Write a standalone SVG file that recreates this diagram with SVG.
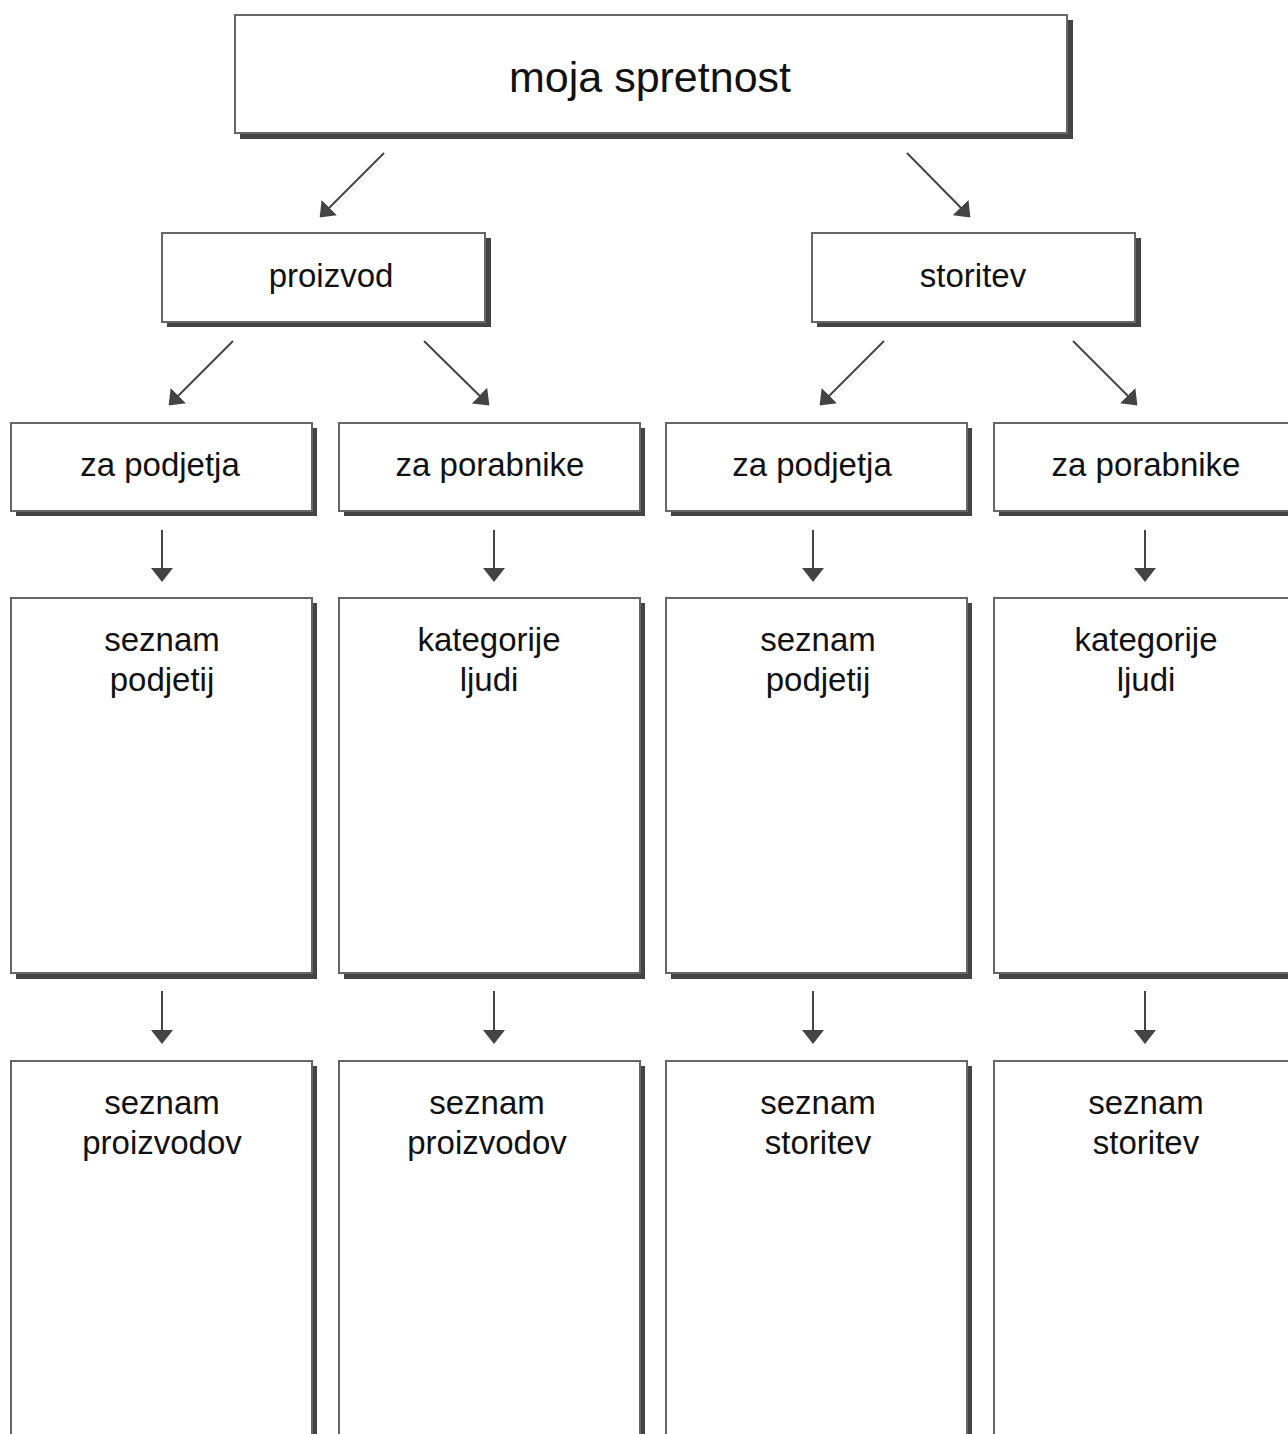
<svg xmlns="http://www.w3.org/2000/svg" width="1288" height="1434" viewBox="0 0 1288 1434">
<style>
.sh{fill:#444}
.bx{fill:#fff;stroke:#666;stroke-width:2}
.t{font-family:"Liberation Sans",Arial,Helvetica,sans-serif;fill:#111;text-anchor:middle;font-size:33px}
.c{stroke:#444;stroke-width:2;fill:none;marker-end:url(#ah)}
</style>
<defs>
<marker id="ah" markerUnits="userSpaceOnUse" markerWidth="14" markerHeight="22" viewBox="0 0 14 22" refX="12" refY="11" orient="auto">
<path d="M0,0 L14,11 L0,22 Z" fill="#444"/>
</marker>
</defs>
<rect width="1288" height="1434" fill="#fff"/>
<g id="n-root">
<rect class="sh" x="240" y="20" width="833" height="119"/>
<rect class="bx" x="235" y="15" width="832" height="118"/>
<text class="t" x="650" y="92" style="font-size:43px">moja spretnost</text>
</g>
<g id="n-proizvod">
<rect class="sh" x="167" y="238" width="324" height="89"/>
<rect class="bx" x="162" y="233" width="323" height="89"/>
<text class="t" x="331" y="287">proizvod</text>
</g>
<g id="n-storitev">
<rect class="sh" x="817" y="238" width="324" height="89"/>
<rect class="bx" x="812" y="233" width="323" height="89"/>
<text class="t" x="973" y="287">storitev</text>
</g>
<g id="n-p-podjetja">
<rect class="sh" x="16" y="428" width="301" height="88"/>
<rect class="bx" x="11" y="423" width="301" height="88"/>
<text class="t" x="160" y="476">za podjetja</text>
</g>
<g id="n-p-porabnike">
<rect class="sh" x="344" y="428" width="301" height="88"/>
<rect class="bx" x="339" y="423" width="301" height="88"/>
<text class="t" x="490" y="476">za porabnike</text>
</g>
<g id="n-s-podjetja">
<rect class="sh" x="671" y="428" width="301" height="88"/>
<rect class="bx" x="666" y="423" width="301" height="88"/>
<text class="t" x="812" y="476">za podjetja</text>
</g>
<g id="n-s-porabnike">
<rect class="sh" x="999" y="428" width="301" height="88"/>
<rect class="bx" x="994" y="423" width="301" height="88"/>
<text class="t" x="1146" y="476">za porabnike</text>
</g>
<g id="n-p-seznam-podjetij">
<rect class="sh" x="16" y="603" width="301" height="376"/>
<rect class="bx" x="11" y="598" width="301" height="375"/>
<text class="t" x="162" y="651">seznam</text>
<text class="t" x="162" y="691">podjetij</text>
</g>
<g id="n-p-kategorije">
<rect class="sh" x="344" y="603" width="301" height="376"/>
<rect class="bx" x="339" y="598" width="301" height="375"/>
<text class="t" x="489" y="651">kategorije</text>
<text class="t" x="489" y="691">ljudi</text>
</g>
<g id="n-s-seznam-podjetij">
<rect class="sh" x="671" y="603" width="301" height="376"/>
<rect class="bx" x="666" y="598" width="301" height="375"/>
<text class="t" x="818" y="651">seznam</text>
<text class="t" x="818" y="691">podjetij</text>
</g>
<g id="n-s-kategorije">
<rect class="sh" x="999" y="603" width="301" height="376"/>
<rect class="bx" x="994" y="598" width="301" height="375"/>
<text class="t" x="1146" y="651">kategorije</text>
<text class="t" x="1146" y="691">ljudi</text>
</g>
<g id="n-p-seznam-proizvodov-1">
<rect class="sh" x="16" y="1066" width="301" height="400"/>
<rect class="bx" x="11" y="1061" width="301" height="400"/>
<text class="t" x="162" y="1114">seznam</text>
<text class="t" x="162" y="1154">proizvodov</text>
</g>
<g id="n-p-seznam-proizvodov-2">
<rect class="sh" x="344" y="1066" width="301" height="400"/>
<rect class="bx" x="339" y="1061" width="301" height="400"/>
<text class="t" x="487" y="1114">seznam</text>
<text class="t" x="487" y="1154">proizvodov</text>
</g>
<g id="n-s-seznam-storitev-1">
<rect class="sh" x="671" y="1066" width="301" height="400"/>
<rect class="bx" x="666" y="1061" width="301" height="400"/>
<text class="t" x="818" y="1114">seznam</text>
<text class="t" x="818" y="1154">storitev</text>
</g>
<g id="n-s-seznam-storitev-2">
<rect class="sh" x="999" y="1066" width="301" height="400"/>
<rect class="bx" x="994" y="1061" width="301" height="400"/>
<text class="t" x="1146" y="1114">seznam</text>
<text class="t" x="1146" y="1154">storitev</text>
</g>
<g id="connectors">
<line class="c" x1="384" y1="153" x2="321" y2="216"/>
<line class="c" x1="907" y1="153" x2="969" y2="216"/>
<line class="c" x1="233" y1="341" x2="170" y2="404"/>
<line class="c" x1="424" y1="341" x2="488" y2="404"/>
<line class="c" x1="884" y1="341" x2="821" y2="404"/>
<line class="c" x1="1073" y1="341" x2="1136" y2="404"/>
<line class="c" x1="162" y1="530" x2="162" y2="580"/>
<line class="c" x1="494" y1="530" x2="494" y2="580"/>
<line class="c" x1="813" y1="530" x2="813" y2="580"/>
<line class="c" x1="1145" y1="530" x2="1145" y2="580"/>
<line class="c" x1="162" y1="991" x2="162" y2="1042"/>
<line class="c" x1="494" y1="991" x2="494" y2="1042"/>
<line class="c" x1="813" y1="991" x2="813" y2="1042"/>
<line class="c" x1="1145" y1="991" x2="1145" y2="1042"/>
</g>
</svg>
